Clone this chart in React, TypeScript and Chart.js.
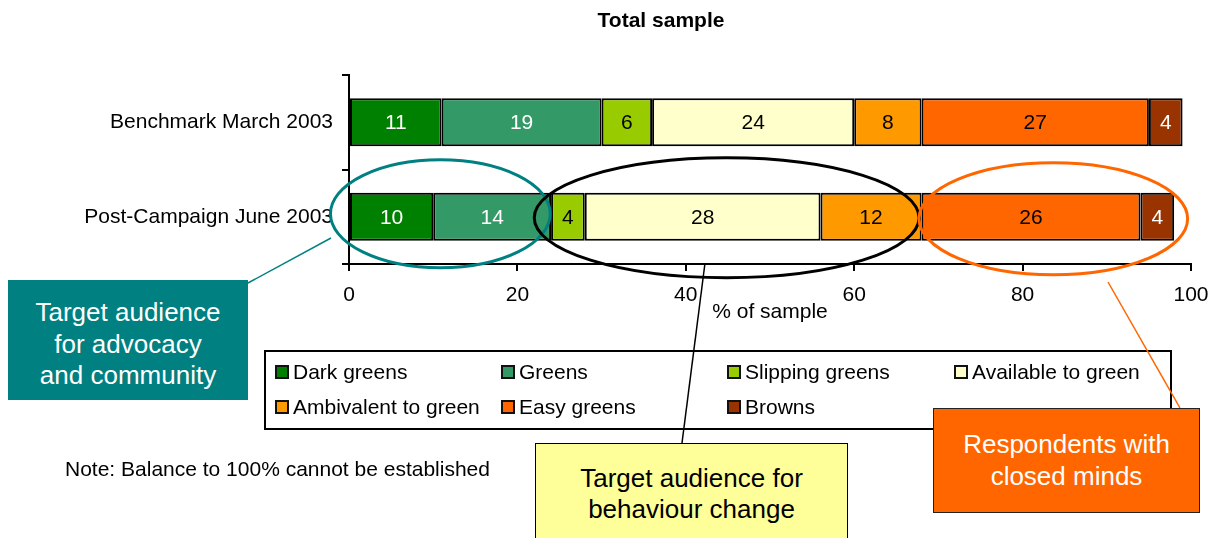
import React, { useEffect, useRef } from 'react';
import { Chart, registerables } from 'chart.js';

Chart.register(...registerables);

const FONT = "'Liberation Sans', Arial, sans-serif";

const categories = ['Benchmark March 2003', 'Post-Campaign June 2003'];
const segmentNames = [
  'Dark greens',
  'Greens',
  'Slipping greens',
  'Available to green',
  'Ambivalent to green',
  'Easy greens',
  'Browns',
];
const darkGreens = [11, 10];
const greens = [19, 14];
const slippingGreens = [6, 4];
const availableToGreen = [24, 28];
const ambivalentToGreen = [8, 12];
const easyGreens = [27, 26];
const browns = [4, 4];
const seriesValues = [darkGreens, greens, slippingGreens, availableToGreen, ambivalentToGreen, easyGreens, browns];
const segmentColors = ['#008000', '#339966', '#99CC00', '#FFFFCC', '#FF9900', '#FF6600', '#993300'];
const valueLabelColors = ['#FFFFFF', '#FFFFFF', '#000000', '#000000', '#000000', '#000000', '#FFFFFF'];
const xMin = 0;
const xMax = 100;
const xStep = 20;

const titleText = 'Total sample';
const xAxisTitle = '% of sample';
const noteText = 'Note: Balance to 100% cannot be established';

// legend grid positions (column, row)
const legendSlots = [
  [0, 0], [1, 0], [2, 0], [3, 0],
  [0, 1], [1, 1], [2, 1],
];
const legendColumnX = [11, 237, 463, 690];
const legendRowY = [22, 57];

// annotation ellipses in data units along x, around the second category
const ellipses = [
  { from: -2.2, to: 23.9, cat: 1, dy: -3, ry: 54, color: '#008080' },
  { from: 22, to: 67.7, cat: 1, dy: 1, ry: 60, color: '#000000' },
  { from: 67.7, to: 99.6, cat: 1, dy: 2, ry: 56, color: '#FF6600' },
];
const connectors = [
  { x1: 248, y1: 283, x2: 331, y2: 238, color: '#008080' },
  { x1: 682, y1: 443, x2: 705, y2: 263, color: '#000000' },
  { x1: 1180, y1: 408, x2: 1108, y2: 282, color: '#FF6600' },
];

const valueLabelPlugin = {
  id: 'valueLabels',
  afterDatasetsDraw(chart: any) {
    const ctx = chart.ctx;
    ctx.save();
    ctx.font = `21px ${FONT}`;
    ctx.textAlign = 'center';
    ctx.textBaseline = 'middle';
    chart.data.datasets.forEach((ds: any, di: number) => {
      const meta = chart.getDatasetMeta(di);
      meta.data.forEach((bar: any, i: number) => {
        const v = ds.data[i];
        ctx.fillStyle = valueLabelColors[di];
        ctx.fillText(String(v), (bar.x + bar.base) / 2, bar.y + 1);
      });
    });
    ctx.restore();
  },
};

const annotationPlugin = {
  id: 'annotations',
  afterDraw(chart: any) {
    const ctx = chart.ctx;
    const xs = chart.scales.x;
    const ys = chart.scales.y;
    ctx.save();
    ellipses.forEach((e) => {
      const x1 = xs.getPixelForValue(e.from);
      const x2 = xs.getPixelForValue(e.to);
      const cy = ys.getPixelForValue(e.cat) + e.dy;
      ctx.beginPath();
      ctx.ellipse((x1 + x2) / 2, cy, (x2 - x1) / 2, e.ry, 0, 0, Math.PI * 2);
      ctx.strokeStyle = e.color;
      ctx.lineWidth = 3;
      ctx.stroke();
    });
    ctx.restore();
  },
};

export default function App() {
  const canvasRef = useRef<HTMLCanvasElement | null>(null);

  useEffect(() => {
    if (!canvasRef.current) return;
    const chart = new Chart(canvasRef.current, {
      type: 'bar',
      data: {
        labels: categories,
        datasets: seriesValues.map((vals, i) => ({
          label: segmentNames[i],
          data: vals,
          backgroundColor: segmentColors[i],
          borderColor: '#000000',
          borderWidth: 2,
          borderSkipped: false,
          barPercentage: 0.51,
          categoryPercentage: 1,
        })),
      },
      options: {
        indexAxis: 'y',
        responsive: false,
        animation: false,
        devicePixelRatio: 1,
        layout: { padding: { left: 0, right: 21, top: 75, bottom: 213 } },
        font: { family: FONT },
        plugins: {
          legend: { display: false },
          tooltip: { enabled: false },
          title: { display: false },
        },
        scales: {
          x: {
            type: 'linear',
            stacked: true,
            min: xMin,
            max: xMax,
            position: 'bottom',
            afterFit(scale: any) {
              scale.height = 61;
              scale.paddingLeft = 0;
              scale.paddingRight = 0;
            },
            ticks: {
              stepSize: xStep,
              color: '#000000',
              padding: 12,
              font: { family: FONT, size: 21 },
            },
            grid: {
              drawOnChartArea: false,
              drawTicks: true,
              tickLength: 7,
              color: '#000000',
              lineWidth: 2,
            },
            border: { display: true, color: '#000000', width: 2 },
            title: {
              display: true,
              text: xAxisTitle,
              color: '#000000',
              font: { family: FONT, size: 21 },
              padding: { top: 0, bottom: 0 },
            },
          },
          y: {
            type: 'category',
            stacked: true,
            afterFit(scale: any) {
              scale.width = 349;
              scale.paddingTop = 0;
              scale.paddingBottom = 0;
            },
            ticks: {
              color: '#000000',
              padding: 9,
              font: { family: FONT, size: 21 },
            },
            grid: {
              offset: true,
              drawOnChartArea: false,
              drawTicks: true,
              tickLength: 7,
              color: '#000000',
              lineWidth: 2,
            },
            border: { display: true, color: '#000000', width: 2 },
          },
        },
      } as any,
      plugins: [valueLabelPlugin, annotationPlugin],
    });
    return () => chart.destroy();
  }, []);

  const textBase: React.CSSProperties = {
    position: 'absolute',
    fontFamily: FONT,
    whiteSpace: 'nowrap',
  };

  return (
    <div style={{ position: 'fixed', left: 0, top: 0, width: 1212, height: 538, background: '#FFFFFF', overflow: 'hidden' }}>
      <canvas ref={canvasRef} width={1212} height={538} style={{ position: 'absolute', left: 0, top: 0, width: 1212, height: 538 }} />

      {/* Title */}
      <div style={{ ...textBase, left: 511, top: 7, width: 300, textAlign: 'center', fontSize: 21, lineHeight: '26px', fontWeight: 'bold', color: '#000' }}>{titleText}</div>

      {/* Teal annotation */}
      <div style={{ ...textBase, left: 8, top: 280, width: 240, height: 120, background: '#008080', color: '#FFFFFF', fontSize: 26, lineHeight: '31.5px', textAlign: 'center', paddingTop: 17, boxSizing: 'border-box' }}>
        Target audience<br />for advocacy<br />and community
      </div>

      {/* Legend */}
      <div style={{ position: 'absolute', left: 264, top: 350, width: 908, height: 80, border: '2px solid #000', boxSizing: 'border-box' }}>
        {segmentNames.map((name, i) => {
          const [c, r] = legendSlots[i];
          return (
            <div key={name} style={{ position: 'absolute', left: legendColumnX[c] - 2, top: legendRowY[r] - 2 - 13, height: 26, display: 'flex', alignItems: 'center' }}>
              <span style={{ display: 'inline-block', width: 14, height: 14, boxSizing: 'border-box', border: '2px solid #111', background: segmentColors[i], marginRight: 4 }} />
              <span style={{ fontFamily: FONT, fontSize: 21, color: '#000', whiteSpace: 'nowrap' }}>{name}</span>
            </div>
          );
        })}
      </div>

      {/* Connector lines (over the legend, as in the original) */}
      <svg width={1212} height={538} style={{ position: 'absolute', left: 0, top: 0, pointerEvents: 'none' }}>
        {connectors.map((c, i) => (
          <line key={i} x1={c.x1} y1={c.y1} x2={c.x2} y2={c.y2} stroke={c.color} strokeWidth={1.5} />
        ))}
      </svg>

      {/* Yellow annotation */}
      <div style={{ ...textBase, left: 535, top: 443, width: 313, height: 110, background: '#FFFF99', border: '1px solid #000', color: '#000', fontSize: 26, lineHeight: '31px', textAlign: 'center', paddingTop: 19, boxSizing: 'border-box' }}>
        Target audience for<br />behaviour change
      </div>

      {/* Orange annotation */}
      <div style={{ ...textBase, left: 933, top: 408, width: 267, height: 105, background: '#FF6600', border: '1.5px solid #222', color: '#FFFFFF', fontSize: 26, lineHeight: '32px', textAlign: 'center', paddingTop: 19, boxSizing: 'border-box' }}>
        Respondents with<br />closed minds
      </div>

      {/* Note */}
      <div style={{ ...textBase, left: 65, top: 456, fontSize: 21, lineHeight: '26px', color: '#000' }}>{noteText}</div>
    </div>
  );
}
